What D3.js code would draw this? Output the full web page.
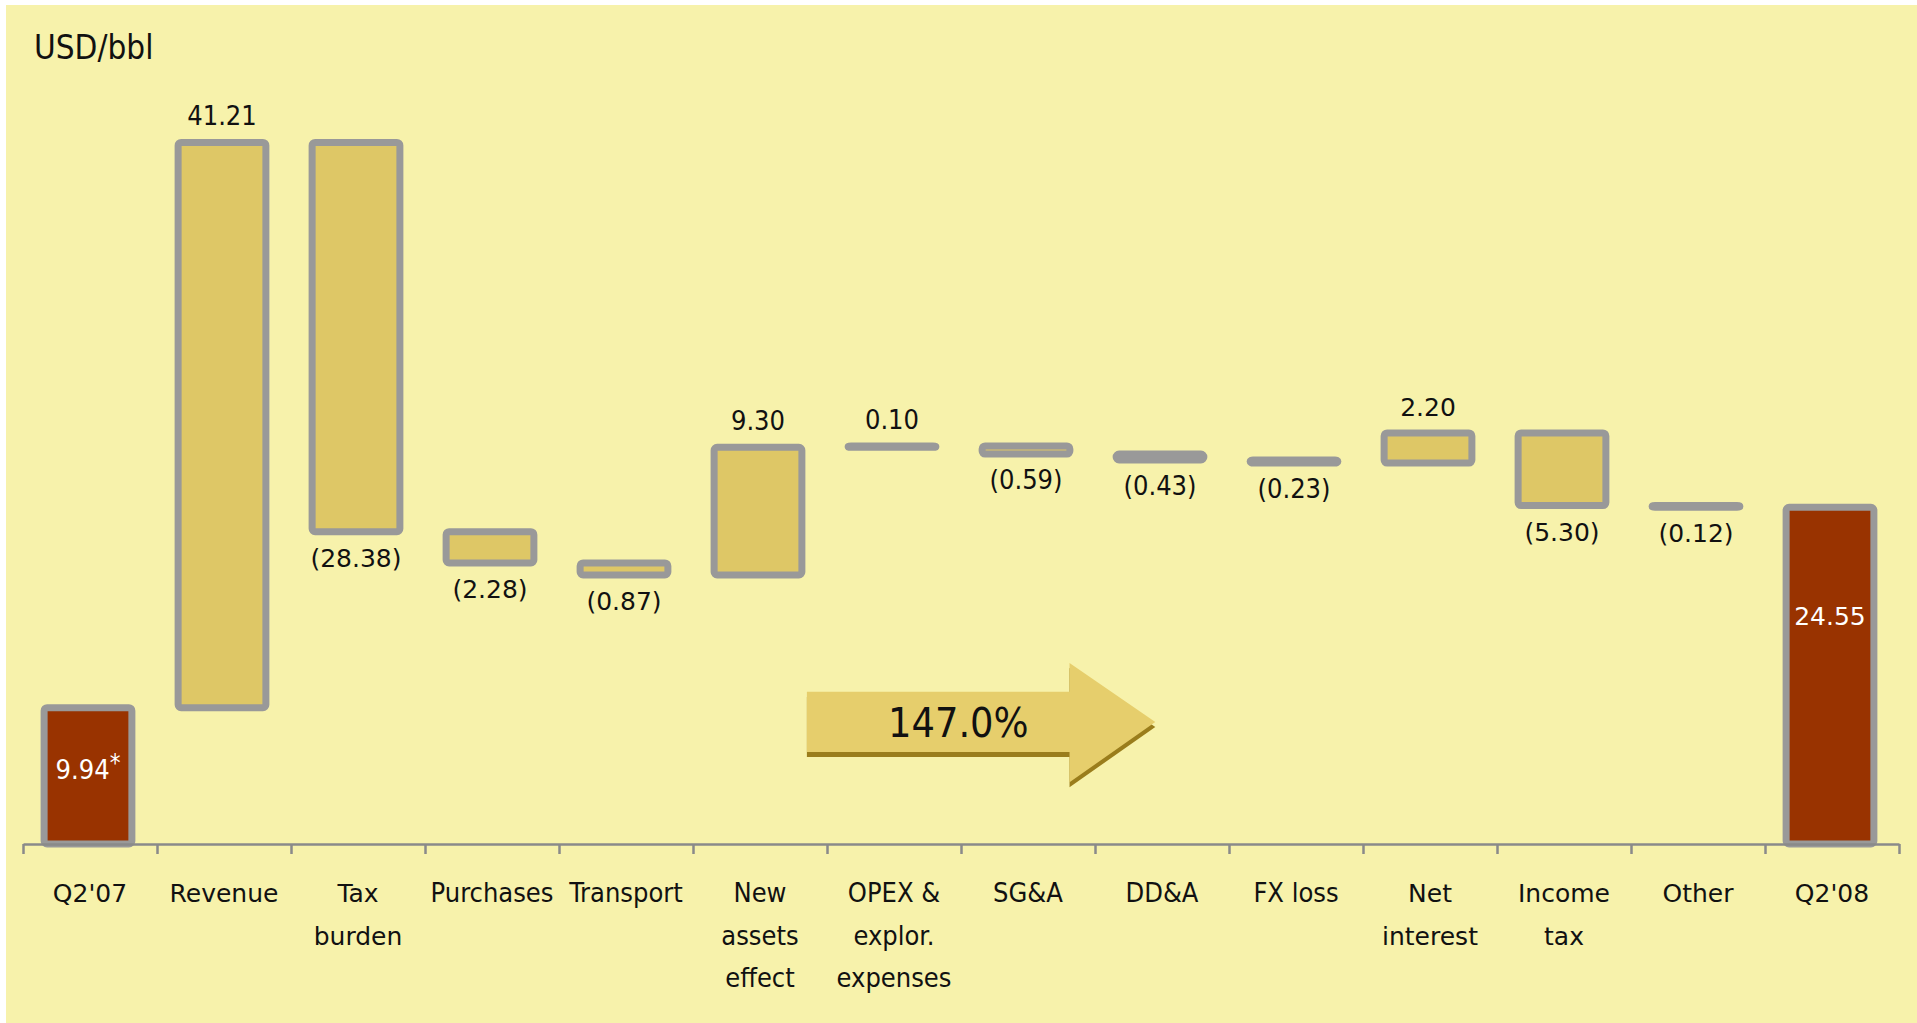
<!DOCTYPE html>
<html>
<head>
<meta charset="utf-8">
<script src="https://cdn.jsdelivr.net/npm/d3@7"></script>
<style>
  body { margin: 0; background: #fff; }
</style>
</head>
<body>
<div id="chart"></div>
<script>
// categories ("|" marks a line break in the axis label)
const categories = ["Q2'07", "Revenue", "Tax|burden", "Purchases", "Transport", "New|assets|effect",
  "OPEX &|explor.|expenses", "SG&A", "DD&A", "FX loss", "Net|interest", "Income|tax", "Other", "Q2'08"]
const startValue = 9.94
const endValue = 24.55
const changes = [41.21, -28.38, -2.28, -0.87, 9.30, 0.10, -0.59, -0.43, -0.23, 2.20, -5.30, -0.12]
const unitLabel = "USD/bbl"
const growthLabel = "147.0%"

// labels drawn in the wide face, the rest use the condensed one
const wideCats = new Set(["Q2'07", "Revenue", "Tax|burden", "Net|interest", "Income|tax", "Other", "Q2'08"])
const wideValues = new Set(["Tax|burden", "Purchases", "Transport", "Net|interest", "Income|tax", "Other", "Q2'08"])

const W = 1917, H = 1023
const narrow = "'DejaVu Sans Condensed', 'DejaVu Sans', sans-serif"
const wide = "'DejaVu Sans', sans-serif"

// build waterfall steps
let run = startValue
const steps = [{cat: categories[0], lo: 0, hi: startValue, v: startValue, type: "total"}]
changes.forEach((c, i) => {
  const next = run + c
  steps.push({cat: categories[i + 1], lo: Math.min(run, next), hi: Math.max(run, next), v: c, type: "delta"})
  run = next
})
steps.push({cat: categories[categories.length - 1], lo: 0, hi: endValue, v: endValue, type: "total"})

const svg = d3.select("#chart").append("svg")
  .attr("width", W).attr("height", H)

svg.append("rect")
  .attr("x", 6).attr("y", 5)
  .attr("width", W - 6).attr("height", H - 5)
  .attr("fill", "#f7f2ab")

const x = d3.scaleBand().domain(categories).range([23, 1899]).padding(0)
const y = d3.scaleLinear().domain([0, 60]).range([844, 21])
const s = x.step()
const x0 = x.range()[0]
const barW = s * 0.655

svg.append("text")
  .attr("x", 34).attr("y", 59)
  .attr("font-family", narrow).attr("font-size", 33)
  .attr("fill", "#111")
  .text(unitLabel)

// bars
svg.append("g").selectAll("rect")
  .data(steps)
  .join("rect")
    .attr("x", d => x(d.cat) + (s - barW) / 2 - 2)
    .attr("y", d => y(d.hi))
    .attr("width", barW)
    .attr("height", d => Math.max(0.5, y(d.lo) - y(d.hi)))
    .attr("rx", 3)
    .attr("fill", d => d.type === "total" ? "#993300" : "#dec766")
    .attr("stroke", "#999999")
    .attr("stroke-width", 7)

// axis with ticks at band boundaries
const xb = d3.scaleLinear().domain([0, categories.length]).range(x.range())
const axis = svg.append("g")
  .attr("transform", "translate(0," + y(0) + ")")
  .call(d3.axisBottom(xb).tickValues(d3.range(categories.length + 1)).tickSize(10).tickSizeOuter(0).tickFormat(""))
axis.selectAll("path, line").attr("stroke", "#8a8a8a").attr("stroke-width", 2.5)

// category labels
const lab = svg.append("g").selectAll("text")
  .data(categories)
  .join("text")
    .attr("text-anchor", "middle")
    .attr("font-family", d => wideCats.has(d) ? wide : narrow)
    .attr("font-size", d => wideCats.has(d) ? 25 : 27)
    .attr("fill", "#111")
lab.selectAll("tspan")
  .data(d => d.split("|").map(t => ({t, c: d})))
  .join("tspan")
    .attr("x", d => x(d.c) + s / 2)
    .attr("y", (d, i) => 902 + i * 42.5)
    .text(d => d.t)

// value labels
const fmt = d3.format(".2f")
const vl = svg.append("g").selectAll("text")
  .data(steps)
  .join("text")
    .attr("text-anchor", "middle")
    .attr("x", d => x(d.cat) + s / 2 - 2)
    .attr("y", (d, i) => {
      if (d.type === "total") return i === 0 ? y(d.hi * 0.55) + 10 : y(d.hi * 0.68) + 10
      return d.v >= 0 ? y(d.hi) - 17 : y(d.lo) + 35
    })
    .attr("font-family", d => wideValues.has(d.cat) ? wide : narrow)
    .attr("font-size", d => wideValues.has(d.cat) ? 25 : 27)
    .attr("fill", d => d.type === "total" ? "#fff" : "#111")
    .text((d, i) => {
      if (i === 0) return fmt(d.v)
      return d.v < 0 ? "(" + fmt(-d.v) + ")" : fmt(d.v)
    })
vl.filter((d, i) => i === 0).append("tspan")
  .attr("dy", -8).attr("font-size", 24)
  .text("*")

// growth arrow
const bodyL = x0 + 5.85 * s, headX = x0 + 7.81 * s, tipX = x0 + 8.45 * s
const arrowPts = [
  [bodyL, y(11.1)], [headX, y(11.1)], [headX, y(13.2)], [tipX, y(8.9)],
  [headX, y(4.5)], [headX, y(6.7)], [bodyL, y(6.7)]
]
const arrow = svg.append("g")
arrow.append("polygon")
  .attr("points", arrowPts.map(p => [p[0], p[1] + 5].join(",")).join(" "))
  .attr("fill", "#9a7d1c")
arrow.append("polygon")
  .attr("points", arrowPts.map(p => p.join(",")).join(" "))
  .attr("fill", "#e6ce6c")
arrow.append("text")
  .attr("x", x0 + 6.98 * s).attr("y", y(7.8))
  .attr("text-anchor", "middle")
  .attr("font-family", narrow).attr("font-size", 41)
  .attr("fill", "#111")
  .text(growthLabel)
</script>
</body>
</html>
